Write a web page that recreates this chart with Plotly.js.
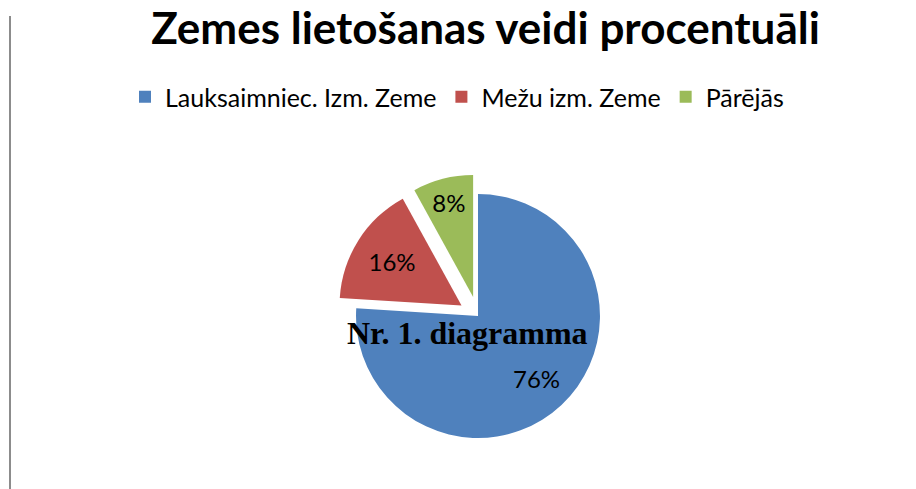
<!DOCTYPE html>
<html>
<head>
<meta charset="utf-8">
<script src="https://cdn.plot.ly/plotly-3.0.1.min.js"></script>
<style>html,body{margin:0;padding:0;background:#fff;}#chart{width:916px;height:489px;}</style>
</head>
<body>
<div id="chart"></div>
<script>
const categories = ["Lauksaimniec. Izm. Zeme", "Mežu izm. Zeme", "Pārējās"];
const shares = [76, 16, 8];
const sliceColors = ["#4F81BD", "#C0504D", "#9BBB59"];
const pulls = [0, 0.16, 0.16];
const chartTitle = "Zemes lietošanas veidi procentuāli";
const caption = "Nr. 1. diagramma";

const W = 916, H = 489;
const cx = 478, cy = 316, box = 283;
const labelFont = {family: "Lato, 'Open Sans', sans-serif", size: 24, color: "#000"};

// the first (large) slice's label sits further out along its bisector
const total = shares.reduce((a, b) => a + b, 0);
const maxPull = Math.max(...pulls);
const radius = box / 2 / (1 + maxPull);
const midAngle = (shares[0] / 2) / total * 2 * Math.PI; // clockwise from 12 o'clock
const labelR = 0.7 * radius;
const bigLabel = {
  text: Math.round(shares[0] / total * 100) + "%",
  xref: "paper", yref: "paper",
  x: (cx + Math.sin(midAngle) * labelR) / W,
  y: 1 - (cy - Math.cos(midAngle) * labelR) / H,
  xanchor: "center", yanchor: "middle",
  showarrow: false,
  font: labelFont
};

const trace = {
  type: "pie",
  labels: categories,
  values: shares,
  sort: false,
  direction: "clockwise",
  rotation: 0,
  pull: pulls,
  marker: {colors: sliceColors, line: {width: 0}},
  texttemplate: ["", "%{percent:.0%}", "%{percent:.0%}"],
  textposition: "inside",
  insidetextorientation: "horizontal",
  textfont: labelFont,
  hoverinfo: "label+percent",
  domain: {
    x: [(cx - box/2)/W, (cx + box/2)/W],
    y: [(H - cy - box/2)/H, (H - cy + box/2)/H]
  }
};

const layout = {
  width: W, height: H,
  margin: {l: 0, r: 0, t: 0, b: 0},
  paper_bgcolor: "#fff",
  plot_bgcolor: "#fff",
  title: {
    text: "<b>" + chartTitle + "</b>",
    font: {family: "Lato, 'Open Sans', sans-serif", size: 44, color: "#000"},
    x: 485.5/W, xanchor: "center", xref: "paper",
    y: 1 - 28.3/H, yanchor: "middle", yref: "container"
  },
  showlegend: true,
  legend: {
    orientation: "h",
    x: 125/W, xanchor: "left",
    y: 1 - 97/H, yanchor: "middle",
    font: {family: "Lato, 'Open Sans', sans-serif", size: 25, color: "#000"},
    bgcolor: "rgba(0,0,0,0)",
    traceorder: "normal"
  },
  annotations: [{
    text: "<b>" + caption + "</b>",
    xref: "paper", yref: "paper",
    x: 467.5/W, y: 1 - 333/H,
    xanchor: "center", yanchor: "middle",
    showarrow: false,
    font: {family: "'Liberation Serif', 'Times New Roman', serif", size: 32, color: "#000"}
  }, bigLabel],
  shapes: [{
    type: "line", xref: "paper", yref: "paper",
    x0: 10/W, x1: 10/W, y0: 0, y1: 1 - 16/H,
    line: {color: "#8c8c8c", width: 2}
  }]
};

Plotly.newPlot("chart", [trace], layout, {displayModeBar: false, staticPlot: true});
</script>
</body>
</html>
